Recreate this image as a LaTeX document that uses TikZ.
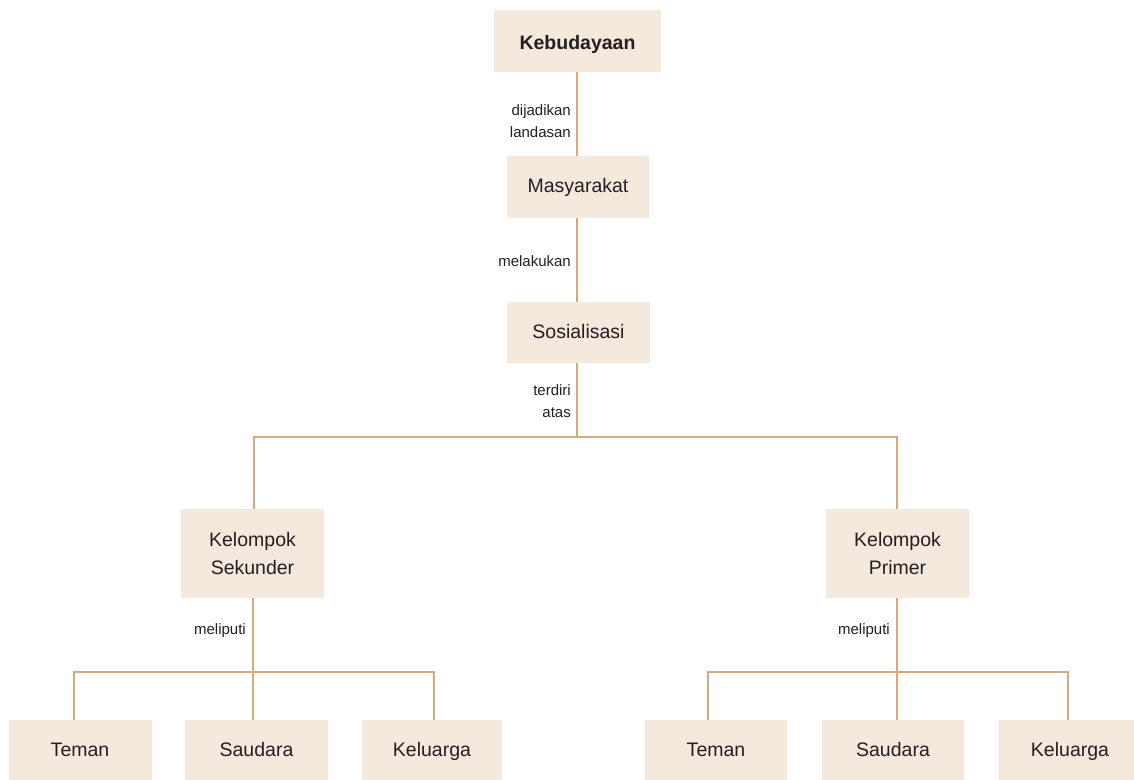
\documentclass[tikz,border=0pt]{standalone}
\usepackage{fontspec}
\setmainfont{Liberation Sans}
\definecolor{boxfill}{RGB}{245,233,222}
\definecolor{linec}{RGB}{214,170,128}
\definecolor{txt}{RGB}{35,31,32}
\begin{document}
\begin{tikzpicture}[x=1pt,y=-1pt,
  box/.style={fill=boxfill,draw=none,text=txt,align=center,inner sep=0pt,
    font=\fontsize{19.5}{28}\selectfont},
  one/.style={text height=14pt,text depth=4pt},
  conn/.style={draw=linec,line width=2.4pt},
  lbl/.style={text=txt,align=right,anchor=east,inner sep=0pt,
    font=\fontsize{15}{22}\selectfont}]
\useasboundingbox (0,0) rectangle (1134,779);
% main chain
\node[box,text height=18pt,text depth=1pt,minimum width=167,minimum height=62,font=\bfseries\fontsize{19.5}{28}\selectfont] (keb) at (577.5,41) {Kebudayaan};
\node[box,one,minimum width=142,minimum height=62] (mas) at (578,187) {Masyarakat};
\node[box,text height=15pt,text depth=3pt,minimum width=143,minimum height=61] (sos) at (578.5,332.5) {Sosialisasi};
\node[box,minimum width=143,minimum height=89] (sek) at (252.5,553.5) {Kelompok\\Sekunder};
\node[box,minimum width=143,minimum height=89] (pri) at (897.5,553.5) {Kelompok\\Primer};
% bottom left
\node[box,one,minimum width=143,minimum height=62] (t1) at (80,751) {Teman};
\node[box,one,minimum width=143,minimum height=62] (s1) at (256.5,751) {Saudara};
\node[box,one,minimum width=140,minimum height=62] (k1) at (432,751) {Keluarga};
% bottom right
\node[box,one,minimum width=142,minimum height=62] (t2) at (716,751) {Teman};
\node[box,one,minimum width=142,minimum height=62] (s2) at (893,751) {Saudara};
\node[box,one,minimum width=142,minimum height=62] (k2) at (1070,751) {Keluarga};
% junction coordinates
\coordinate (jtop) at (577,437);
\coordinate (jl) at (254,437);
\coordinate (jr) at (897,437);
\coordinate (jbl) at (253,672);
\coordinate (jbl1) at (74,672);
\coordinate (jbl3) at (434,672);
\coordinate (jbr) at (897,672);
\coordinate (jbr1) at (708,672);
\coordinate (jbr3) at (1068,672);
% connectors
\draw[conn] (keb.south -| jtop) -- (mas.north -| jtop);
\draw[conn] (mas.south -| jtop) -- (sos.north -| jtop);
\draw[conn] (sos.south -| jtop) -- (jtop);
\draw[conn] (jl |- sek.north) -- (jl) -- (jr) -- (jr |- pri.north);
\draw[conn] (sek.south -| jbl) -- (jbl);
\draw[conn] (jbl1 |- t1.north) -- (jbl1) -- (jbl3) -- (jbl3 |- k1.north);
\draw[conn] (jbl) -- (jbl |- s1.north);
\draw[conn] (pri.south -| jbr) -- (jbr);
\draw[conn] (jbr1 |- t2.north) -- (jbr1) -- (jbr3) -- (jbr3 |- k2.north);
\draw[conn] (jbr) -- (jbr |- s2.north);
% labels
\node[lbl] (l1) at (571,121) {dijadikan\\landasan};
\node[lbl] (l2) at (571,261) {melakukan};
\node[lbl] (l3) at (571,401) {terdiri\\atas};
\node[lbl] (l4) at (246,631) {meliputi};
\node[lbl] (l5) at (890,631) {meliputi};
\end{tikzpicture}
\end{document}
